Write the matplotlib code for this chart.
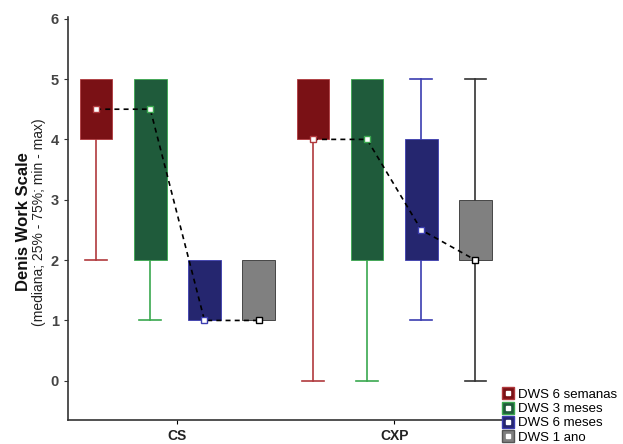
import numpy as np
import matplotlib.pyplot as plt
from matplotlib.lines import Line2D
from matplotlib.patches import Rectangle

plt.rcParams["font.family"] = ["Liberation Sans", "DejaVu Sans"]

groups = ["CS", "CXP"]
series = ["DWS 6 semanas", "DWS 3 meses", "DWS 6 meses", "DWS 1 ano"]

# per group, per series
medians = [[4.5, 4.5, 1, 1], [4, 4, 2.5, 2]]
q1 = [[4, 2, 1, 1], [4, 2, 2, 2]]
q3 = [[5, 5, 2, 2], [5, 5, 4, 3]]
mins = [[2, 1, 1, 1], [0, 0, 1, 0]]
maxs = [[5, 5, 2, 2], [5, 5, 5, 5]]

box_colors = ["#7a1115", "#1f5b3b", "#25266f", "#808080"]
whisker_colors = ["#b0393d", "#3aa84f", "#3b3db0", "#333333"]

fig = plt.figure(figsize=(6.23, 4.44), dpi=100)
ax = fig.add_axes([0.109, 0.054, 0.702, 0.908])

w = 0.6
for g in range(len(groups)):
    xs = []
    for s in range(len(series)):
        x = g * 4 + s + 1
        xs.append(x)
        lo, hi = mins[g][s], maxs[g][s]
        a, b = q1[g][s], q3[g][s]
        wc = whisker_colors[s]
        # whiskers
        if lo < a:
            ax.plot([x, x], [lo, a], color=wc, lw=1.2, zorder=1)
            ax.plot([x - 0.2, x + 0.2], [lo, lo], color=wc, lw=1.2, zorder=1)
        if hi > b:
            ax.plot([x, x], [b, hi], color=wc, lw=1.2, zorder=1)
            ax.plot([x - 0.2, x + 0.2], [hi, hi], color=wc, lw=1.2, zorder=1)
        ax.add_patch(Rectangle((x - w / 2, a), w, b - a, facecolor=box_colors[s],
                               edgecolor=wc, lw=0.6, zorder=2))
    ax.plot(xs, medians[g], color="black", ls=(0, (3, 2.5)), lw=1.2, zorder=3)
    for s in range(len(series)):
        ax.plot(xs[s], medians[g][s], marker="s", ms=5, mfc="white",
                mec=whisker_colors[s] if s < 3 else "black", mew=1, zorder=4)

ax.set_xlim(0.48, 8.55)
ax.set_ylim(-0.65, 6.03)
ax.set_yticks([0, 1, 2, 3, 4, 5, 6])
ax.set_xticks([2.5, 6.5])
ax.set_xticklabels(groups, fontweight="bold", fontsize=10)
ax.tick_params(axis="y", labelsize=10.5, length=3, colors="#333333", labelcolor="#444444")
ax.tick_params(axis="x", length=3, labelcolor="#222222")
for lbl in ax.get_yticklabels():
    lbl.set_fontweight("bold")
ax.spines["top"].set_visible(False)
ax.spines["right"].set_visible(False)
for sp in ["left", "bottom"]:
    ax.spines[sp].set_color("#333333")
    ax.spines[sp].set_linewidth(1.2)

fig.text(0.037, 0.50, "Denis Work Scale", rotation=90, ha="center", va="center",
         fontsize=12, fontweight="bold", color="#111111")
fig.text(0.062, 0.50, "(mediana; 25% - 75%; min - max)", rotation=90, ha="center",
         va="center", fontsize=10, color="#222222")

handles = []
for s in range(len(series)):
    outer = Line2D([], [], marker="s", ms=8, mfc=box_colors[s], mec=whisker_colors[s] if s < 3 else "#555555", ls="none")
    inner = Line2D([], [], marker="s", ms=3, mfc="white", mec="white", ls="none")
    handles.append((outer, inner))
fig.legend(handles, series, loc="lower left", bbox_to_anchor=(0.803, -0.005),
           frameon=False, fontsize=9.5, handlelength=0.8, handletextpad=0.35,
           labelspacing=0.15, borderaxespad=0, borderpad=0.2)

fig.savefig("out.png", dpi=100)
